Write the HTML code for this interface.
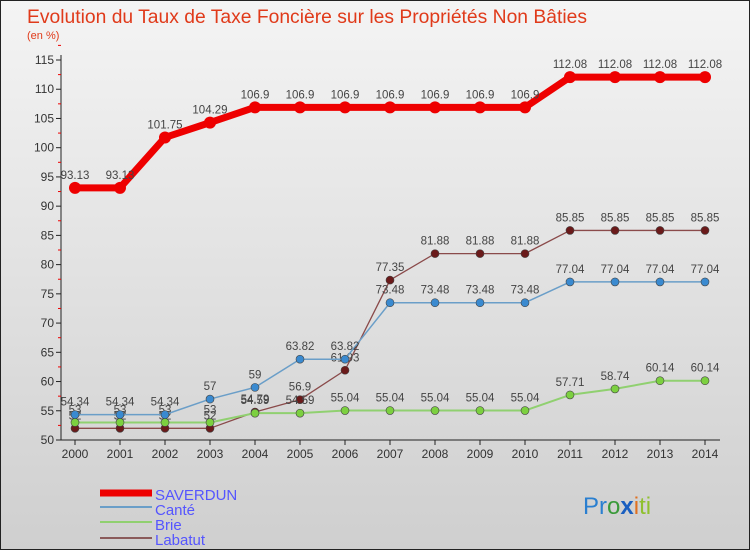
<!DOCTYPE html>
<html><head><meta charset="utf-8"><style>
body{margin:0;}
#wrap{width:750px;height:550px;position:relative;overflow:hidden;font-family:"Liberation Sans",sans-serif;}
</style></head><body>
<div id="wrap">
<svg id="svg" width="750" height="550" xmlns="http://www.w3.org/2000/svg" font-family="Liberation Sans, sans-serif">
<defs><linearGradient id="bg" x1="0" y1="0" x2="0" y2="1"><stop offset="0" stop-color="#f4f4f4"/><stop offset="1" stop-color="#cfcfcf"/></linearGradient></defs>
<rect x="0.5" y="0.5" width="749" height="549" fill="url(#bg)" stroke="#222"/>
<text x="27" y="23" font-size="19" fill="#e03a1a" textLength="560" lengthAdjust="spacingAndGlyphs">Evolution du Taux de Taxe Foncière sur les Propriétés Non Bâties</text>
<text x="27" y="39" font-size="11" fill="#e03a1a">(en %)</text>
<g id="axes"></g><g id="series"></g>
<g>
<line x1="100" y1="493" x2="152" y2="493" stroke="#ee0000" stroke-width="7"/>
<text x="155" y="500" font-size="15" fill="#5555ff">SAVERDUN</text>
<line x1="100" y1="507" x2="152" y2="507" stroke="#6a9ec8" stroke-width="2"/>
<text x="155" y="515" font-size="15" fill="#5555ff">Canté</text>
<line x1="100" y1="522" x2="152" y2="522" stroke="#90d070" stroke-width="2"/>
<text x="155" y="530" font-size="15" fill="#5555ff">Brie</text>
<line x1="100" y1="538" x2="152" y2="538" stroke="#8a5a5a" stroke-width="2"/>
<text x="155" y="545" font-size="15" fill="#5555ff">Labatut</text>
</g>
<text x="583" y="514" font-size="24"><tspan fill="#2a7fd0">Pr</tspan><tspan fill="#3a9a3a">o</tspan><tspan fill="#1a5fc0" font-weight="bold">x</tspan><tspan fill="#e07020">i</tspan><tspan fill="#90c030">ti</tspan></text>
</svg></div>
<script>
const years=[2000,2001,2002,2003,2004,2005,2006,2007,2008,2009,2010,2011,2012,2013,2014];
const saverdun=[93.13,93.13,101.75,104.29,106.9,106.9,106.9,106.9,106.9,106.9,106.9,112.08,112.08,112.08,112.08];
const cante=[54.34,54.34,54.34,57,59,63.82,63.82,73.48,73.48,73.48,73.48,77.04,77.04,77.04,77.04];
const brie=[53,53,53,53,54.59,54.59,55.04,55.04,55.04,55.04,55.04,57.71,58.74,60.14,60.14];
const labatut=[52,52,52,52,54.79,56.9,61.93,77.35,81.88,81.88,81.88,85.85,85.85,85.85,85.85];
const yTicks=[50,55,60,65,70,75,80,85,90,95,100,105,110,115];
const NS="http://www.w3.org/2000/svg";
const x=i=>75+i*45;
const y=v=>440-(v-50)*380/65;
function mk(t,a,p){const e=document.createElementNS(NS,t);for(const k in a)e.setAttribute(k,a[k]);p.appendChild(e);return e;}
const ax=document.getElementById('axes');
const yl=mk('line',{x1:61,y1:55,x2:61,y2:440,stroke:'#222'},ax);


const xl=mk('line',{x1:61,y1:440,x2:720,y2:440,stroke:'#222'},ax);


yTicks.forEach(v=>{
 mk('line',{x1:56,y1:y(v),x2:61,y2:y(v),stroke:'#222'},ax);
 mk('line',{x1:58,y1:y(v+2.5),x2:61,y2:y(v+2.5),stroke:'#e00'},ax);
 const t=mk('text',{x:54,y:y(v)+4,'font-size':12,fill:'#333','text-anchor':'end'},ax);t.textContent=v;
 
 
});
years.forEach((yr,i)=>{
 mk('line',{x1:x(i),y1:440,x2:x(i),y2:445,stroke:'#222'},ax);
 const t=mk('text',{x:x(i),y:458,'font-size':12,fill:'#333','text-anchor':'middle'},ax);t.textContent=yr;
 
 
});
const sg=document.getElementById('series');
function draw(name,vals,color,w,r,dot){
 const g=mk('g',{},sg);
 
 
 const pl=mk('polyline',{points:vals.map((v,i)=>x(i)+','+y(v)).join(' '),fill:'none',stroke:color,'stroke-width':w,'stroke-linejoin':'round'},g);
 
 
 vals.forEach((v,i)=>{
  const c=mk('circle',{cx:x(i),cy:y(v),r:r,fill:dot,stroke:dot==='#e00'?'none':'#444','stroke-width':0.6},g);
  
  
  const t=mk('text',{x:x(i),y:y(v)-9,'font-size':11.5,fill:'#444','text-anchor':'middle'},g);t.textContent=v;
  
  
 });
}
draw('labatut',labatut,'#8a4a4a',1.3,4,'#6a1a1a');
draw('brie',brie,'#90d070',2,4,'#7cd040');
draw('cante',cante,'#6a9ec8',1.5,4,'#3a8ad0');
draw('saverdun',saverdun,'#ee0000',7,6,'#e00');
</script>
</body></html>
